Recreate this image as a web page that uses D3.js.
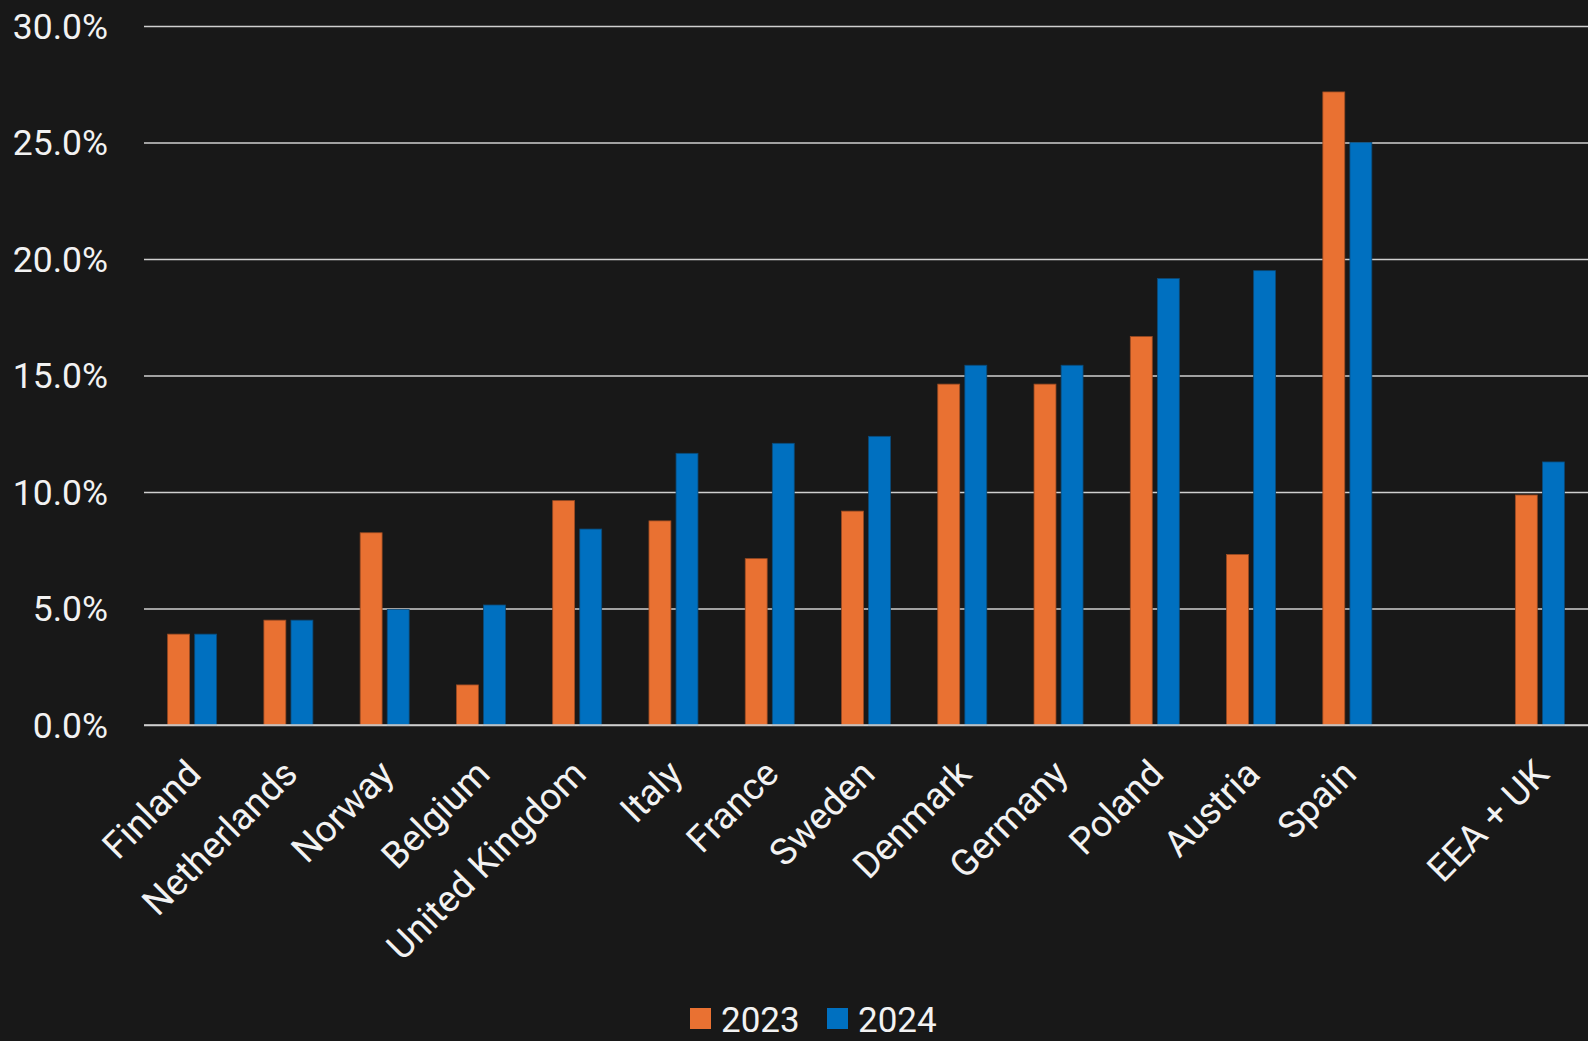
<!DOCTYPE html>
<html>
<head>
<meta charset="utf-8">
<script src="https://cdn.jsdelivr.net/npm/d3@7"></script>
<style>
  html, body { margin: 0; padding: 0; background: #181818; }
  svg { display: block; }
  text { font-family: Roboto, "Noto Sans", sans-serif; fill: #f2f2f2; }
</style>
</head>
<body>
<svg id="chart" width="1588" height="1041"></svg>
<script>
// ---- data ----
const categories = ["Finland", "Netherlands", "Norway", "Belgium", "United Kingdom", "Italy", "France", "Sweden", "Denmark", "Germany", "Poland", "Austria", "Spain", "", "EEA + UK"];
const series2023 = [0.039, 0.045, 0.0825, 0.0172, 0.0963, 0.0876, 0.0714, 0.0918, 0.1463, 0.1463, 0.1667, 0.0732, 0.2717, null, 0.0987];
const series2024 = [0.039, 0.045, 0.0496, 0.0515, 0.0841, 0.1166, 0.1209, 0.1239, 0.1544, 0.1544, 0.1916, 0.1950, 0.2500, null, 0.1129];
const seriesNames = ["2023", "2024"];
const yTicks = [0, 0.05, 0.10, 0.15, 0.20, 0.25, 0.30];

const colors = { "2023": "#E97132", "2024": "#0070C0" };
const strokes = { "2023": "#9a4a22", "2024": "#0a4a78" };

const svg = d3.select("#chart");
const plot = { left: 144, right: 1588, top: 26, bottom: 725 };

const x0 = d3.scaleBand().domain(d3.range(categories.length)).range([plot.left, plot.right]).paddingInner(0).paddingOuter(0);
const bw0 = x0.bandwidth();
const x1 = d3.scaleBand().domain(seriesNames).range([bw0 * 0.2455, bw0 * 0.7545]).paddingInner(0.19).paddingOuter(0);
const y = d3.scaleLinear().domain([0, 0.30]).range([plot.bottom, plot.top]);

// gridlines
const grid = svg.append("g").attr("transform", `translate(${plot.left},0)`)
  .call(d3.axisLeft(y).tickValues(yTicks).tickSize(-(plot.right - plot.left)).tickFormat(""));
grid.select(".domain").remove();
grid.selectAll("line").attr("stroke", "#cfcfcf").attr("stroke-width", 1.5);

// y labels
const yAxis = svg.append("g").attr("transform", `translate(${plot.left},0)`)
  .call(d3.axisLeft(y).tickValues(yTicks).tickSize(0).tickPadding(36).tickFormat(d3.format(".1%")));
yAxis.select(".domain").remove();
yAxis.selectAll("text").attr("font-size", 35.5).attr("fill", "#f2f2f2")
  .attr("font-family", "Roboto, sans-serif").attr("dy", "0.35em");

// bars
const rows = categories.map((c, i) => ({ i, c, vals: [ {k: "2023", v: series2023[i]}, {k: "2024", v: series2024[i]} ] }));
const groups = svg.append("g").selectAll("g").data(rows).join("g")
  .attr("transform", d => `translate(${x0(d.i)},0)`);
groups.selectAll("rect").data(d => d.vals.filter(v => v.v != null)).join("rect")
  .attr("x", d => x1(d.k))
  .attr("width", x1.bandwidth())
  .attr("y", d => y(d.v))
  .attr("height", d => y(0) - y(d.v))
  .attr("fill", d => colors[d.k])
  .attr("stroke", d => strokes[d.k])
  .attr("stroke-width", 0.8);

// baseline on top
svg.append("line").attr("x1", plot.left).attr("x2", plot.right).attr("y1", y(0)).attr("y2", y(0))
  .attr("stroke", "#cfcfcf").attr("stroke-width", 1.5);

// x labels
svg.append("g").selectAll("text").data(rows.filter(d => d.c !== "")).join("text")
  .attr("transform", d => `translate(${x0(d.i) + bw0 / 2 + 11},${plot.bottom + 51}) rotate(-45)`)
  .attr("text-anchor", "end")
  .attr("font-size", 37)
  .text(d => d.c);

// legend
const legend = svg.append("g").attr("transform", "translate(690,1008)");
const legendOffsets = [0, 137];
const li = legend.selectAll("g").data(seriesNames).join("g")
  .attr("transform", (d, i) => `translate(${legendOffsets[i]},0)`);
li.append("rect").attr("width", 21).attr("height", 21).attr("fill", d => colors[d]);
li.append("text").attr("x", 31).attr("y", 23.5).attr("font-size", 35).text(d => d);
</script>
</body>
</html>
